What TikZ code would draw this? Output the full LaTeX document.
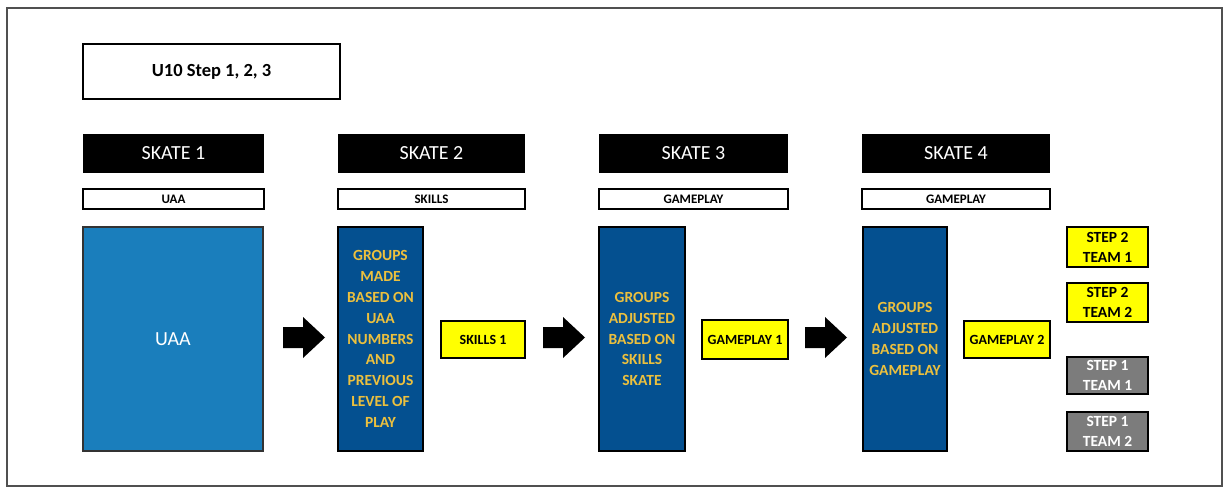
\documentclass[tikz,border=0pt]{standalone}
\usepackage{fontspec}
\setmainfont{Carlito}
\definecolor{uaablue}{RGB}{26,126,188}
\definecolor{navy}{RGB}{4,80,144}
\definecolor{gold}{RGB}{236,192,62}
\definecolor{framegrey}{RGB}{80,80,80}
\definecolor{teamgrey}{RGB}{124,124,124}
\definecolor{hilite}{RGB}{255,255,0}
\tikzset{
  px/.style={x=1pt,y=-1pt},
  cell/.style={rectangle,inner sep=0pt,align=center,anchor=center},
  titlebox/.style={cell,draw=black,line width=1.4pt,fill=white,
    font=\bfseries\fontsize{18.5}{22}\selectfont},
  header/.style={cell,fill=black,text=white,
    font=\fontsize{20}{24}\selectfont},
  subbox/.style={cell,draw=black,line width=1.4pt,fill=white,
    minimum height=20pt,font=\bfseries\fontsize{13}{15}\selectfont},
  uaabox/.style={cell,draw=black!80,line width=1.2pt,fill=uaablue,
    text=white,font=\fontsize{20}{24}\selectfont},
  groupbox/.style={cell,draw=black,line width=1.2pt,fill=navy,text=gold,
    minimum height=224pt,font=\bfseries\fontsize{15.5}{20.8}\selectfont},
  tag/.style={cell,draw=black,line width=1.2pt,fill=hilite,
    font=\bfseries\fontsize{14}{16}\selectfont},
  team/.style={cell,draw=black,line width=1.2pt,minimum width=81pt,
    font=\bfseries\fontsize{15.5}{20}\selectfont},
  stepyellow/.style={team,fill=hilite},
  stepgrey/.style={team,fill=teamgrey,text=white},
  blockarrow/.style={fill=black}
}
\begin{document}
\begin{tikzpicture}[px]
\useasboundingbox (0,0) rectangle (1225,487);
% outer frame
\draw[framegrey,line width=1.5pt] (7,8) rectangle (1222,486);

% title
\node[titlebox,minimum width=257pt,minimum height=55pt] (title) at (211.5,71.5) {U10 Step 1, 2, 3};

% skate headers
\node[header,minimum width=181pt,minimum height=39pt] (s1) at (173.5,153.5) {SKATE 1};
\node[header,minimum width=187pt,minimum height=39pt] (s2) at (431.5,153.5) {SKATE 2};
\node[header,minimum width=189pt,minimum height=39pt] (s3) at (693.5,153.5) {SKATE 3};
\node[header,minimum width=188pt,minimum height=39pt] (s4) at (956,153.5) {SKATE 4};

% focus labels
\node[subbox,minimum width=181pt] (f1) at (173.5,199) {UAA};
\node[subbox,minimum width=187pt] (f2) at (431.5,199) {SKILLS};
\node[subbox,minimum width=189pt] (f3) at (693.5,199) {GAMEPLAY};
\node[subbox,minimum width=188pt] (f4) at (956,199) {GAMEPLAY};

% main blocks
\node[uaabox,minimum width=180pt,minimum height=224pt] (uaa) at (173,339) {UAA};
\node[groupbox,minimum width=85pt] (g2) at (380.5,339)
  {GROUPS\\MADE\\BASED ON\\UAA\\NUMBERS\\AND\\PREVIOUS\\LEVEL OF\\PLAY};
\node[groupbox,minimum width=86pt] (g3) at (642,339)
  {GROUPS\\ADJUSTED\\BASED ON\\SKILLS\\SKATE};
\node[groupbox,minimum width=84pt] (g4) at (905,339)
  {GROUPS\\ADJUSTED\\BASED ON\\GAMEPLAY};

% session tags
\node[tag,minimum width=84pt,minimum height=37pt] (k1) at (483,339.5) {SKILLS 1};
\node[tag,minimum width=86pt,minimum height=39pt] (k2) at (745,339.5) {GAMEPLAY 1};
\node[tag,minimum width=86pt,minimum height=37pt] (k3) at (1007,339.5) {GAMEPLAY 2};

% resulting teams
\node[stepyellow,minimum height=40pt] (t1) at (1107.5,247) {STEP 2\\TEAM 1};
\node[stepyellow,minimum height=39pt] (t2) at (1107.5,302.5) {STEP 2\\TEAM 2};
\node[stepgrey,minimum height=37pt] (t3) at (1107.5,375.5) {STEP 1\\TEAM 1};
\node[stepgrey,minimum height=39pt] (t4) at (1107.5,431.5) {STEP 1\\TEAM 2};

% block arrows between skates
\foreach \n/\xa in {a1/283,a2/543,a3/805}{
  \coordinate (\n) at (\xa,337.5);
  \fill[blockarrow] (\n) ++(0,-10.5) -- ++(20,0) -- ++(0,-10) -- ++(22,20.5)
    -- ++(-22,20.5) -- ++(0,-10) -- ++(-20,0) -- cycle;
}
\end{tikzpicture}
\end{document}
